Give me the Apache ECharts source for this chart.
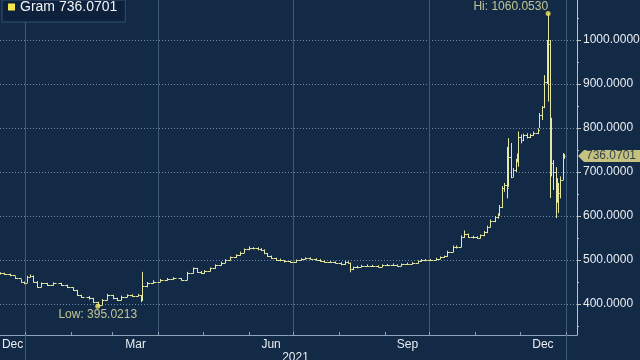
<!DOCTYPE html>
<html><head><meta charset="utf-8">
<script src="https://cdn.jsdelivr.net/npm/echarts@6/dist/echarts.min.js"></script>
<style>html,body{margin:0;padding:0;background:#132a47;}#c{width:640px;height:360px;}</style>
</head><body><div id="c"></div>
<script>
// ---- data (x = days since 2021-01-01) ----
const seriesName = 'Gram';
const days = [-17,-14,-10,-7,-3,-1,1,3,5,8,11,15,19,24,28,32,35,38,43,46,49,52,55,59,62,65,69,72,76,78,79,82,86,91,96,100,105,109,113,116,119,121,125,128,132,135,138,142,145,148,151,154,157,159,161,163,166,169,172,175,179,183,186,189,192,196,199,202,206,209,213,216,218,219,221,224,227,231,234,238,241,244,248,251,254,258,261,265,267,270,273,277,280,283,285,289,291,294,296,299,302,305,307,310,312,314,317,319,320,322,323,325,326,328,329,331,332,333,335,336,339,341,343,346,347,349,350,352,353,354,355,356,358,359,360,361,363,364];
const closes = [470,468,466,459,450,448,462,464,451,439,447,443,447,443,438,432,420,417,413,405,398,409,420,413,409,417,420,418,420,409,440,447,451,455,456,458,455,471,481,473,470,475,481,488,494,500,506,511,517,524,527,527,525,523,515,509,504,501,499,497,495,499,502,504,503,501,498,496,496,494,490,496,494,479,483,485,487,487,486,485,488,489,489,487,490,492,493,497,500,499,500,503,506,508,519,530,530,553,560,553,552,551,556,563,576,589,597,603,621,663,670,663,735,689,705,727,739,780,773,784,780,784,788,795,830,848,905,962,990,818,720,700,636,667,652,682,735,736.0701];
const highs = [472,471,469,463,456,451,464,467,465,452,449,448,449,448,444,438,432,421,418,414,405,411,423,421,414,419,422,422,423,420,473,450,454,457,459,461,459,473,483,482,475,477,483,490,496,502,508,513,519,526,531,529,529,527,524,516,510,505,503,500,498,501,504,506,506,504,502,499,498,497,495,498,497,494,485,487,489,490,489,488,490,491,492,490,492,494,495,499,502,502,502,505,508,510,521,533,533,556,567,560,555,554,558,566,578,592,600,606,625,668,675,757,777,766,709,730,742,792,785,787,788,787,792,799,834,850,920,1000,1060.053,1000,823,727,711,686,675,690,743,741];
const lows = [467,466,463,457,448,445,448,460,449,437,438,441,442,441,436,430,418,414,410,402,395.0213,397,408,411,407,408,415,416,417,404,407,438,446,450,453,455,453,454,469,471,468,469,474,480,487,493,499,505,510,516,522,524,522,520,513,507,502,498,497,494,493,494,498,501,501,499,496,494,493,492,488,489,492,472,477,481,484,485,484,483,484,486,487,485,486,489,490,492,496,497,498,499,502,505,507,518,526,529,550,550,549,548,549,554,561,574,586,594,601,618,655,640,666,686,689,700,722,712,765,770,776,777,782,786,800,818,845,900,860,641,690,659,595,630,607,640,682,730];
const monthStarts = [-31,0,31,59,90,120,151,181,212,243,273,304,334,365,396];
const monthNames = ['Dec','Jan','Feb','Mar','Apr','May','Jun','Jul','Aug','Sep','Oct','Nov','Dec','Jan'];
const labeledMonthIdx = [0,3,6,9,12];
const quarterStarts = [90,181,273];
const yearStarts = [0,365];
const yearLabels = ['2021'];
const yTicks = [400,500,600,700,800,900,1000,1100];
const yMinorTicks = [350,450,550,650,750,850,950,1050];

// ---- layout / style ----
const xMin = -17, xMax = 372.5, yMin = 329.5, yMax = 1113.6;
const FONT = '"Liberation Sans", Arial, sans-serif';
const barColor = '#e6e79e';
const textColor = '#e8edf2';
const lastClose = closes[closes.length - 1];

const opens = closes.map((c, i) => i === 0 ? c : closes[i - 1]);
const ohlc = days.map((d, i) => [d, opens[i], closes[i], lows[i], highs[i]]);

let iHi = 0, iLo = 0;
highs.forEach((v, i) => { if (v > highs[iHi]) iHi = i; });
lows.forEach((v, i) => { if (v < lows[iLo]) iLo = i; });

const labelCenters = [], labelMap = {};
labeledMonthIdx.forEach(i => {
  const s = Math.max(monthStarts[i], xMin), e = Math.min(monthStarts[i + 1], xMax);
  const c = (s + e) / 2; labelCenters.push(c); labelMap[c] = monthNames[i];
});
const tickDays = monthStarts.filter(d => d >= xMin && d <= xMax);
const yearCenters = [], yearMap = {};
yearLabels.forEach((y, i) => { const c = (yearStarts[i] + yearStarts[i + 1]) / 2; yearCenters.push(c); yearMap[c] = y; });

const gridLineColor = '#3f5a7a';
const chart = echarts.init(document.getElementById('c'), null, {renderer: 'canvas'});
chart.setOption({
  backgroundColor: '#132a47',
  animation: false,
  textStyle: {fontFamily: FONT},
  grid: {left: 0, right: 63, top: -10, bottom: 25, containLabel: false, outerBoundsMode: 'none'},
  legend: {
    show: true, data: [seriesName], left: 2, top: 0, padding: [0, 8, 8, 6],
    backgroundColor: '#0d213c', borderColor: '#34506f', borderWidth: 1,
    icon: 'rect', itemWidth: 7, itemHeight: 7, itemStyle: {color: '#f2e64a'},
    textStyle: {color: '#f2f4f6', fontSize: 14, lineHeight: 8, fontFamily: FONT},
    formatter: n => n + ' ' + lastClose.toFixed(4)
  },
  xAxis: [
    {type: 'value', min: xMin, max: xMax, position: 'bottom',
     axisLine: {show: true, onZero: false, lineStyle: {color: '#8ea3ba', width: 1}},
     axisTick: {show: true, inside: true, length: 3, customValues: tickDays, lineStyle: {color: '#8ea3ba'}},
     axisLabel: {show: true, customValues: labelCenters, formatter: v => labelMap[v] || '', color: textColor, fontSize: 12, margin: 4, fontFamily: FONT},
     splitLine: {show: false}},
    {type: 'value', min: xMin, max: xMax, position: 'bottom',
     axisLine: {show: false, onZero: false},
     axisTick: {show: true, customValues: yearStarts, length: 25, lineStyle: {color: gridLineColor}},
     axisLabel: {show: true, customValues: yearCenters, formatter: v => yearMap[v] || '', color: textColor, fontSize: 12, margin: 17, fontFamily: FONT},
     splitLine: {show: true, lineStyle: {color: gridLineColor, width: 1}}},
    {type: 'value', min: xMin, max: xMax, position: 'bottom',
     axisLine: {show: false, onZero: false},
     axisTick: {show: false, customValues: quarterStarts},
     axisLabel: {show: false},
     splitLine: {show: true, lineStyle: {color: gridLineColor, width: 1}}}
  ],
  yAxis: [
    {type: 'value', position: 'right', min: yMin, max: yMax,
     axisLine: {show: true, onZero: false, lineStyle: {color: '#c4c69c'}},
     axisTick: {show: true, customValues: yTicks, length: 4, lineStyle: {color: '#c4c69c'}},
     axisLabel: {show: true, customValues: yTicks, formatter: v => Number(v).toFixed(4), color: textColor, fontSize: 12, margin: 6, fontFamily: FONT},
     splitLine: {show: true, lineStyle: {color: '#6f89aa', type: [1, 2], width: 1}}},
    {type: 'value', position: 'right', min: yMin, max: yMax,
     axisLine: {show: false, onZero: false},
     axisTick: {show: true, customValues: yMinorTicks, length: 2, lineStyle: {color: '#c4c69c'}},
     axisLabel: {show: false},
     splitLine: {show: false}}
  ],
  series: [
    {name: seriesName, type: 'custom', xAxisIndex: 0, yAxisIndex: 0,
     itemStyle: {color: barColor},
     encode: {x: 0, y: [1, 2, 3, 4]},
     data: ohlc,
     renderItem: function (params, api) {
       const i = params.dataIndex;
       const d = api.value(0), o = api.value(1), c = api.value(2), lo = api.value(3), hi = api.value(4);
       const pH = api.coord([d, hi]), pL = api.coord([d, lo]), pO = api.coord([d, o]), pC = api.coord([d, c]);
       const x = Math.round(pH[0]) + 0.5;
       const prevX = i > 0 ? api.coord([days[i - 1], c])[0] : x - 4;
       const nextX = i < days.length - 1 ? api.coord([days[i + 1], c])[0] : x + 2;
       const lt = Math.min(3, Math.max(1, (x - prevX) / 2));
       const rt = Math.min(3, Math.max(1, (nextX - x) / 2));
       const yo = Math.round(pO[1]) + 0.5, yc = Math.round(pC[1]) + 0.5;
       const st = {stroke: barColor, lineWidth: 1};
       return {type: 'group', children: [
         {type: 'line', shape: {x1: x, y1: pH[1], x2: x, y2: pL[1]}, style: st},
         {type: 'line', shape: {x1: x - lt, y1: yo, x2: x, y2: yo}, style: st},
         {type: 'line', shape: {x1: x, y1: yc, x2: x + rt, y2: yc}, style: st}
       ]};
     }},
    {name: 'hilo', type: 'scatter', xAxisIndex: 0, yAxisIndex: 0, symbolSize: 5, clip: false, z: 5,
     itemStyle: {color: '#f4ec5e'},
     data: [
       {value: [days[iHi], highs[iHi]], label: {show: true, position: [2.5, -4.5], align: 'right', verticalAlign: 'middle',
        formatter: 'Hi: ' + highs[iHi].toFixed(4), color: '#e9e9a6', fontSize: 12, fontFamily: FONT}},
       {value: [days[iLo], lows[iLo]], label: {show: true, position: [2.5, 11.5], align: 'center', verticalAlign: 'middle',
        formatter: 'Low: ' + lows[iLo].toFixed(4), color: '#e9e9a6', fontSize: 12, fontFamily: FONT}}
     ]},
    {name: 'lastTag', type: 'scatter', xAxisIndex: 0, yAxisIndex: 0, clip: false, z: 6,
     symbol: 'path://M0,6 L6,0 L62,0 L62,12 L6,12 Z', symbolSize: [62, 12], symbolOffset: [32, 0],
     itemStyle: {color: '#f3e98e'},
     label: {show: true, position: 'inside', formatter: () => lastClose.toFixed(4), color: '#10233f', fontSize: 12, fontFamily: FONT, offset: [2, 0]},
     data: [[xMax, lastClose]]}
  ]
});
</script></body></html>
